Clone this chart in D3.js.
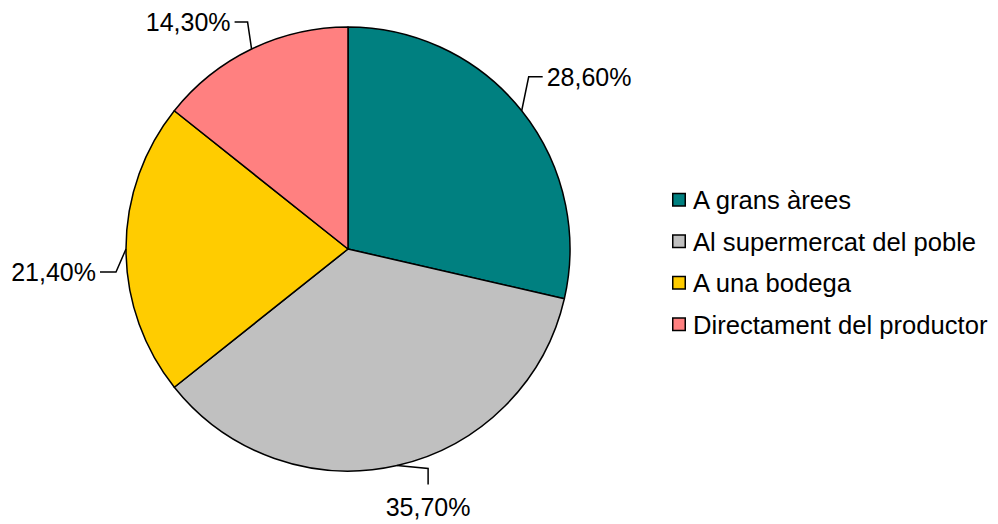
<!DOCTYPE html>
<html>
<head>
<meta charset="utf-8">
<script src="https://cdn.jsdelivr.net/npm/d3@7"></script>
<style>
  html, body { margin: 0; padding: 0; background: #fff; }
  svg text { font-family: "Liberation Sans", Arial, sans-serif; fill: #000; }
</style>
</head>
<body>
<svg id="chart" width="998" height="524"></svg>
<script>
// Where purchases are made (share of respondents)
const categories = ["A grans àrees", "Al supermercat del poble", "A una bodega", "Directament del productor"];
const shares = [28.6, 35.7, 21.4, 14.3];
const labels = ["28,60%", "35,70%", "21,40%", "14,30%"];
const colors = ["#008080", "#C0C0C0", "#FFCC00", "#FF8080"];

// Label placement relative to the slice's outer edge point:
// elbow offset, end-of-leader offset, text offset and anchor.
const labelLayout = [
  { elbow: [7, -34], end: [21, -34], text: [25, -34], anchor: "start" },
  { elbow: [31, 3], end: [31, 19], text: [31, 41], anchor: "middle" },
  { elbow: [-10, 23], end: [-26, 23], text: [-30, 23], anchor: "end" },
  { elbow: [-4, -27], end: [-17, -27], text: [-21, -27], anchor: "end" }
];

const svg = d3.select("#chart");
const cx = 348, cy = 249, radius = 222;

const pie = d3.pie().sort(null).value(d => d)(shares);
const arc = d3.arc().innerRadius(0).outerRadius(radius);

const g = svg.append("g").attr("transform", `translate(${cx},${cy})`);

g.selectAll("path.slice")
  .data(pie)
  .join("path")
  .attr("class", "slice")
  .attr("d", arc)
  .attr("fill", (d, i) => colors[i])
  .attr("stroke", "#000")
  .attr("stroke-width", 1.5)
  .attr("stroke-linejoin", "round");

// Data labels with elbow leader lines
pie.forEach((d, i) => {
  const mid = (d.startAngle + d.endAngle) / 2;
  const ex = radius * Math.sin(mid);
  const ey = -radius * Math.cos(mid);
  const L = labelLayout[i];
  const pts = [[ex, ey], [ex + L.elbow[0], ey + L.elbow[1]], [ex + L.end[0], ey + L.end[1]]];
  g.append("path")
    .attr("d", d3.line()(pts))
    .attr("fill", "none")
    .attr("stroke", "#000")
    .attr("stroke-width", 1.5);
  g.append("text")
    .attr("x", ex + L.text[0])
    .attr("y", ey + L.text[1])
    .attr("text-anchor", L.anchor)
    .attr("dominant-baseline", "central")
    .attr("font-size", 25)
    .text(labels[i]);
});

// Legend
const legend = svg.append("g").attr("transform", "translate(672,200)");
const rowStep = 41.5;
const rows = legend.selectAll("g.row")
  .data(categories)
  .join("g")
  .attr("class", "row")
  .attr("transform", (d, i) => `translate(0,${i * rowStep})`);

rows.append("rect")
  .attr("x", 0.75)
  .attr("y", -6.5)
  .attr("width", 12.5)
  .attr("height", 12.5)
  .attr("fill", (d, i) => colors[i])
  .attr("stroke", "#000")
  .attr("stroke-width", 1.5);

rows.append("text")
  .attr("x", 21)
  .attr("y", 0)
  .attr("dominant-baseline", "central")
  .attr("font-size", 25.6)
  .text(d => d);
</script>
</body>
</html>
